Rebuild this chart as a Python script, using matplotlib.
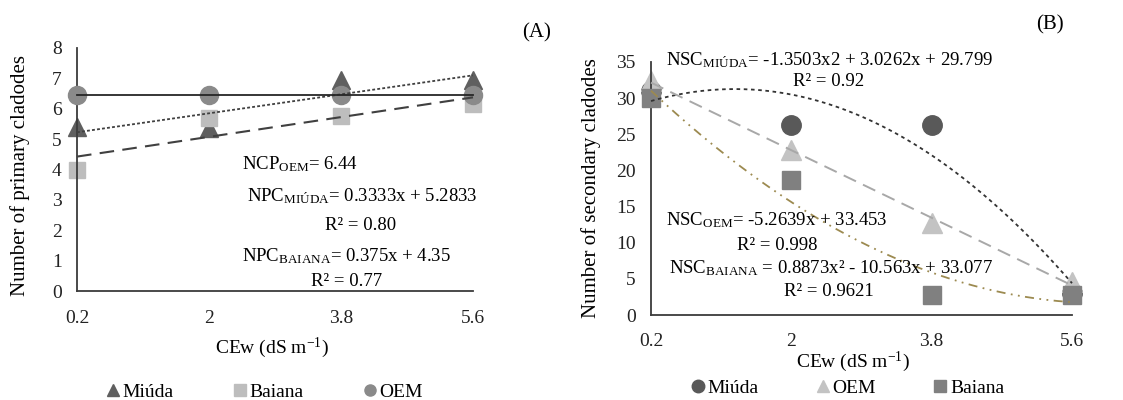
import numpy as np
import matplotlib
matplotlib.use("Agg")
import matplotlib.pyplot as plt
from matplotlib.lines import Line2D

plt.rcParams['font.family'] = ['Liberation Serif', 'DejaVu Serif']
plt.rcParams['mathtext.fontset'] = 'custom'
plt.rcParams['mathtext.rm'] = 'Liberation Serif'
plt.rcParams['mathtext.it'] = 'Liberation Serif:italic'
plt.rcParams['mathtext.bf'] = 'Liberation Serif:bold'

# ---------------- data ----------------
cew_labels = ["0.2", "2", "3.8", "5.6"]

# Panel A - number of primary cladodes
a_miuda = [5.4, 5.35, 6.95, 6.95]
a_baiana = [4.0, 5.7, 5.75, 6.15]
a_oem = [6.44, 6.44, 6.44, 6.44]
a_oem_mean = 6.44

# Panel B - number of secondary cladodes
b_miuda = [31.0, 26.3, 26.3, 3.0]
b_oem = [32.4, 22.8, 12.7, 4.6]
b_baiana = [30.0, 18.7, 2.8, 2.8]

W, H = 1123, 400
fig = plt.figure(figsize=(W / 100, H / 100), dpi=100)

def fx(px):
    return px / W

def fy(py):
    return 1 - py / H

FS = 13
TFS = 14
spine_col = '#3c3c3c'

def style_axes(ax):
    for s in ['top', 'right']:
        ax.spines[s].set_visible(False)
    for s in ['left', 'bottom']:
        ax.spines[s].set_color(spine_col)
        ax.spines[s].set_linewidth(1.3)
    ax.tick_params(axis='both', length=0, labelsize=TFS, colors='#222222')
    ax.tick_params(axis='y', pad=11)
    ax.tick_params(axis='x', pad=14)
    ax.set_facecolor('none')

x = np.arange(len(cew_labels))
xx = np.linspace(0, len(cew_labels) - 1, 200)

# ---------------- Panel A ----------------
axA = fig.add_axes([fx(77), fy(291), fx(473) - fx(77), fy(48) - fy(291)])
style_axes(axA)
axA.set_xlim(0, 3)
axA.set_ylim(0, 8)
axA.set_yticks(range(0, 9))
axA.set_xticks(x)
axA.set_xticklabels(cew_labels)

c_m = np.polyfit(x, a_miuda, 1)
c_b = np.polyfit(x, a_baiana, 1)
axA.plot(xx, np.polyval(c_m, xx), color='#404040', lw=1.3, ls=(0, (1.6, 1.2)), zorder=4, clip_on=False)
axA.plot(xx, np.polyval(c_b, xx), color='#404040', lw=1.5, ls=(0, (7, 4)), zorder=4, clip_on=False)
axA.plot([x[0], x[-1]], [a_oem_mean, a_oem_mean], color='#262626', lw=1.3, zorder=4, clip_on=False)

axA.plot(x, a_miuda, ls='none', marker='^', ms=13, color='#5f5f5f', zorder=2, clip_on=False)
axA.plot(x, a_baiana, ls='none', marker='s', ms=12, color='#bdbdbd', zorder=2.5, clip_on=False)
axA.plot(x, a_oem, ls='none', marker='o', ms=13, color='#8a8a8a', zorder=3, clip_on=False)

fig.text(fx(20), fy(175), "Number of primary cladodes", rotation=90, ha='center', va='center', fontsize=15)
fig.text(fx(272), fy(348), "CEw (dS m$^{\\mathrm{-1}}$)", ha='center', va='center', fontsize=TFS)
fig.text(fx(537), fy(33), "(A)", ha='center', va='center', fontsize=15)

EQ = 13.5
fig.text(fx(300), fy(164), "NCP$_{\\mathrm{OEM}}$= 6.44", ha='center', va='center', fontsize=EQ)
fig.text(fx(362), fy(196), "NPC$_{\\mathrm{MIÚDA}}$= 0.3333x + 5.2833", ha='center', va='center', fontsize=EQ)
fig.text(fx(361), fy(226), "R² = 0.80", ha='center', va='center', fontsize=EQ)
fig.text(fx(346), fy(256), "NPC$_{\\mathrm{BAIANA}}$= 0.375x + 4.35", ha='center', va='center', fontsize=EQ)
fig.text(fx(347), fy(281), "R² = 0.77", ha='center', va='center', fontsize=EQ)

hA = [Line2D([], [], ls='none', marker='^', ms=8, color='#5f5f5f'),
      Line2D([], [], ls='none', marker='s', ms=8, color='#bdbdbd'),
      Line2D([], [], ls='none', marker='o', ms=8, color='#8a8a8a')]
fig.legend(hA, ["Miúda", "Baiana", "OEM"], loc='center', bbox_to_anchor=(fx(265), fy(392)),
           ncol=3, frameon=False, fontsize=TFS, handlelength=0.6, handletextpad=0.2,
           columnspacing=3.1, borderaxespad=0, borderpad=0)

# ---------------- Panel B ----------------
axB = fig.add_axes([fx(651), fy(315), fx(1072) - fx(651), fy(62) - fy(315)])
style_axes(axB)
axB.set_xlim(0, 3)
axB.set_ylim(0, 35)
axB.set_yticks(range(0, 36, 5))
axB.set_xticks(x)
axB.set_xticklabels(cew_labels)
axB.tick_params(axis='x', pad=13)

axB.plot(x, b_miuda, ls='none', marker='o', ms=14, color='#595959', zorder=2, clip_on=False)
axB.plot(x, b_oem, ls='none', marker='^', ms=14, color='#c3c3c3', zorder=2.5, clip_on=False)
axB.plot(x, b_baiana, ls='none', marker='s', ms=13, color='#808080', zorder=3, clip_on=False)

q_m = np.polyfit(x, b_miuda, 2)
l_o = np.polyfit(x, b_oem, 1)
q_b = np.polyfit(x, b_baiana, 2)
axB.plot(xx, np.polyval(q_m, xx), color='#333333', lw=1.3, ls=(0, (2, 2)), zorder=4, clip_on=False)
axB.plot(xx, np.polyval(l_o, xx), color='#a8a8a8', lw=1.4, ls=(0, (7, 4)), zorder=4, clip_on=False)
axB.plot(xx, np.polyval(q_b, xx), color='#9c8a50', lw=1.3, ls=(0, (5, 3, 1, 3, 1, 3)), zorder=4, clip_on=False)

fig.text(fx(591), fy(188), "Number of secondary cladodes", rotation=90, ha='center', va='center', fontsize=15)
fig.text(fx(853), fy(362), "CEw (dS m$^{\\mathrm{-1}}$)", ha='center', va='center', fontsize=TFS)
fig.text(fx(1050), fy(25), "(B)", ha='center', va='center', fontsize=15)

fig.text(fx(830), fy(60), "NSC$_{\\mathrm{MIÚDA}}$= -1.3503x2 + 3.0262x + 29.799", ha='center', va='center', fontsize=EQ)
fig.text(fx(829), fy(81), "R² = 0.92", ha='center', va='center', fontsize=EQ)
fig.text(fx(777), fy(220), "NSC$_{\\mathrm{OEM}}$= -5.2639x + 33.453", ha='center', va='center', fontsize=EQ)
fig.text(fx(777), fy(245), "R² = 0.998", ha='center', va='center', fontsize=EQ)
fig.text(fx(831), fy(268), "NSC$_{\\mathrm{BAIANA}}$ = 0.8873x² - 10.563x + 33.077", ha='center', va='center', fontsize=EQ)
fig.text(fx(829), fy(292), "R² = 0.9621", ha='center', va='center', fontsize=EQ)

hB = [Line2D([], [], ls='none', marker='o', ms=9, color='#595959'),
      Line2D([], [], ls='none', marker='^', ms=9, color='#c3c3c3'),
      Line2D([], [], ls='none', marker='s', ms=9, color='#808080')]
fig.legend(hB, ["Miúda", "OEM", "Baiana"], loc='center', bbox_to_anchor=(fx(848), fy(388)),
           ncol=3, frameon=False, fontsize=TFS, handlelength=0.6, handletextpad=0.2,
           columnspacing=3.0, borderaxespad=0, borderpad=0)

fig.savefig("out.png", dpi=100)
